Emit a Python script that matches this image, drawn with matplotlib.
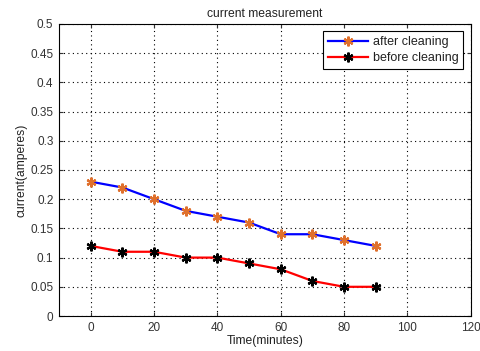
import matplotlib.pyplot as plt
import matplotlib.ticker as ticker

plt.rcParams["font.family"] = ["Liberation Sans", "DejaVu Sans"]

time_min = [0, 10, 20, 30, 40, 50, 60, 70, 80, 90]
after_cleaning = [0.23, 0.22, 0.20, 0.18, 0.17, 0.16, 0.14, 0.14, 0.13, 0.12]
before_cleaning = [0.12, 0.11, 0.11, 0.10, 0.10, 0.09, 0.08, 0.06, 0.05, 0.05]

fig = plt.figure(figsize=(4.81, 3.51), dpi=100)
ax = fig.add_axes([0.1227, 0.0997, 0.856, 0.832])

ax.plot(time_min, after_cleaning, color="blue", linewidth=1.6,
        marker=(6, 2, 0), markersize=7, markeredgewidth=1.6,
        markeredgecolor="#e0702c", markerfacecolor="#e0702c", label="after cleaning")
ax.plot(time_min, before_cleaning, color="red", linewidth=1.6,
        marker=(6, 2, 0), markersize=7, markeredgewidth=1.6,
        markeredgecolor="black", markerfacecolor="black", label="before cleaning")

ax.set_xlim(-10, 120)
ax.set_ylim(0, 0.5)
ax.xaxis.set_major_locator(ticker.MultipleLocator(20))
ax.yaxis.set_major_locator(ticker.MultipleLocator(0.05))
ax.yaxis.set_major_formatter(ticker.FuncFormatter(lambda v, p: f"{v:g}"))
ax.tick_params(direction="in", labelsize=8.5, length=3, top=True, right=True,
               colors="#333333", pad=4)
ax.grid(True, linestyle=(0, (1, 3)), color="black", linewidth=0.8)

ax.set_title("current measurement", fontsize=8.7, pad=5, color="#222222")
ax.set_xlabel("Time(minutes)", fontsize=8.7, labelpad=1, color="#222222")
ax.set_ylabel("current(amperes)", fontsize=8.7, labelpad=2, color="#222222")

leg = ax.legend(loc="upper right", fontsize=9, fancybox=False, framealpha=1,
                edgecolor="black", handlelength=3.2, borderaxespad=0.6,
                borderpad=0.4, labelspacing=0.3, handletextpad=0.4,
                prop={"size": 9})
for t in leg.get_texts():
    t.set_color("#222222")
leg.get_frame().set_linewidth(0.8)

fig.savefig("out.png", dpi=100)
